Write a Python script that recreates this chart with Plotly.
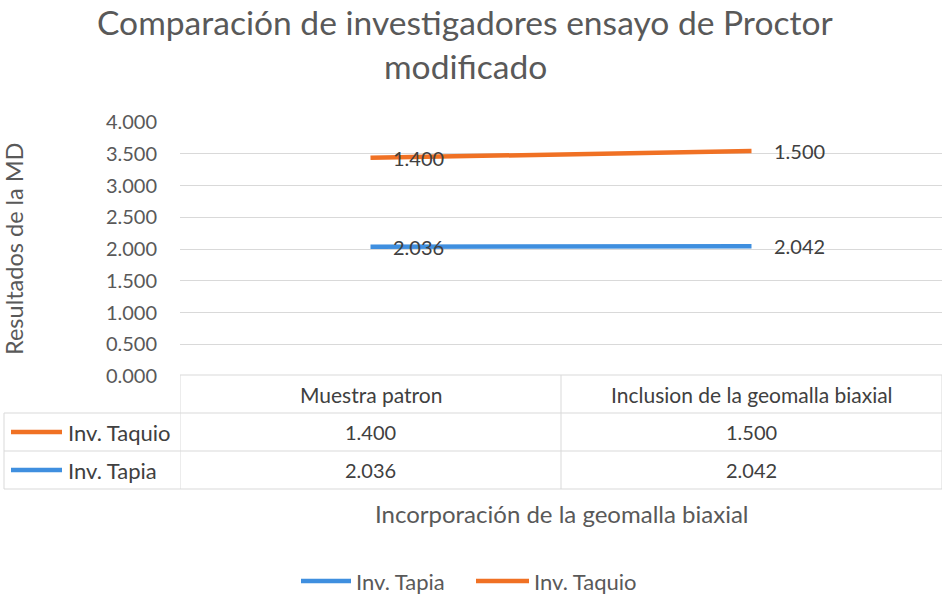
import numpy as np
import plotly.graph_objects as go

categories = ["Muestra patron", "Inclusion de la geomalla biaxial"]
series_names = ["Inv. Tapia", "Inv. Taquio"]
tapia = [2.036, 2.042]
taquio = [1.400, 1.500]
y_ticks = [0, 0.5, 1, 1.5, 2, 2.5, 3, 3.5, 4]
title_lines = ["Comparación de investigadores ensayo de Proctor", "modificado"]

BLUE = "#3F8FDF"
ORANGE = "#F07124"
GRID = "#D9D9D9"
TXT = "#595959"
DARK = "#404040"
FONT = "Lato"

W, H = 943, 597
L, R, T, B = 180, 1, 122, 221
PW, PH = W - L - R, H - T - B


def px(x):
    return (x - L) / PW


def py(y):
    return (H - B - y) / PH


xs = list(range(len(categories)))
series = {"Inv. Tapia": (tapia, BLUE), "Inv. Taquio": (taquio, ORANGE)}

fig = go.Figure()
for name in series_names:
    vals, col = series[name]
    fig.add_trace(go.Scatter(
        x=xs, y=vals, name=name, mode="lines", stackgroup="one", fill="none",
        line=dict(color=col, width=4.5), showlegend=False, hoverinfo="skip"))

annotations = []
stack = np.cumsum(np.array([series[n][0] for n in series_names]), axis=0)
for i, name in enumerate(series_names):
    vals = series[name][0]
    for j, v in enumerate(vals):
        annotations.append(dict(x=xs[j], y=stack[i][j], xref="x", yref="y",
                                text=f"{v:.3f}", showarrow=False, xanchor="left",
                                yanchor="middle", xshift=20,
                                font=dict(family=FONT, size=20, color=DARK)))

shapes = []
# table geometry
row_y = [375, 413, 451, 489]
line_style = dict(color=GRID, width=1)
for b in [-0.5 + k for k in range(len(categories) + 1)]:
    shapes.append(dict(type="line", xref="x", yref="paper", x0=b, x1=b,
                       y0=py(row_y[0]), y1=py(row_y[-1]), line=line_style))
shapes.append(dict(type="line", xref="paper", yref="paper", x0=px(4), x1=px(4),
                   y0=py(row_y[1]), y1=py(row_y[-1]), line=line_style))
shapes.append(dict(type="line", xref="paper", yref="paper", x0=0, x1=1,
                   y0=py(row_y[0]), y1=py(row_y[0]), line=line_style))
for yy in row_y[1:]:
    shapes.append(dict(type="line", xref="paper", yref="paper", x0=px(4), x1=1,
                       y0=py(yy), y1=py(yy), line=line_style))

# header
for j, c in enumerate(categories):
    annotations.append(dict(x=xs[j], y=py((row_y[0] + row_y[1]) / 2), xref="x", yref="paper",
                            text=c, showarrow=False, xanchor="center", yanchor="middle",
                            font=dict(family=FONT, size=21, color=DARK)))

# rows (Taquio first, then Tapia)
table_rows = ["Inv. Taquio", "Inv. Tapia"]
for r, name in enumerate(table_rows):
    vals, col = series[name]
    yc = (row_y[r + 1] + row_y[r + 2]) / 2
    shapes.append(dict(type="line", xref="paper", yref="paper", x0=px(11), x1=px(62),
                       y0=py(yc), y1=py(yc), line=dict(color=col, width=4.5)))
    annotations.append(dict(x=px(66), y=py(yc), xref="paper", yref="paper", text=name,
                            showarrow=False, xanchor="left", yanchor="middle",
                            font=dict(family=FONT, size=22, color=DARK)))
    for j, v in enumerate(vals):
        annotations.append(dict(x=xs[j], y=py(yc), xref="x", yref="paper",
                                text=f"{v:.3f}", showarrow=False, xanchor="center",
                                yanchor="middle", font=dict(family=FONT, size=20, color=DARK)))

# axis titles
annotations.append(dict(x=0.5, y=py(513), xref="paper", yref="paper",
                        text="Incorporación de la geomalla biaxial", showarrow=False,
                        xanchor="center", yanchor="middle",
                        font=dict(family=FONT, size=24, color=TXT)))
annotations.append(dict(x=px(14), y=0.5, xref="paper", yref="paper",
                        text="Resultados de la MD", showarrow=False, textangle=-90,
                        xanchor="center", yanchor="middle",
                        font=dict(family=FONT, size=23.5, color=TXT)))

# chart title (two lines)
for line, yc in zip(title_lines, [22, 66]):
    annotations.append(dict(x=px(465), y=py(yc), xref="paper", yref="paper",
                            text=line, showarrow=False, xanchor="center", yanchor="middle",
                            font=dict(family=FONT, size=33.6, color=TXT)))

# bottom legend
leg = [("Inv. Tapia", BLUE, 301, 351), ("Inv. Taquio", ORANGE, 476, 529)]
for name, col, a, b in leg:
    shapes.append(dict(type="line", xref="paper", yref="paper", x0=px(a), x1=px(b),
                       y0=py(581), y1=py(581), line=dict(color=col, width=4.5)))
    annotations.append(dict(x=px(b + 3), y=py(581), xref="paper", yref="paper", text=name,
                            showarrow=False, xanchor="left", yanchor="middle",
                            font=dict(family=FONT, size=22, color=TXT)))

fig.update_layout(
    width=W, height=H,
    margin=dict(l=L, r=R, t=T, b=B),
    paper_bgcolor="white", plot_bgcolor="white",
    xaxis=dict(range=[-0.5, len(categories) - 0.5], showticklabels=False, showgrid=False,
               zeroline=False, showline=False, fixedrange=True),
    yaxis=dict(range=[0, 4], tickvals=y_ticks, tickformat=".3f", showgrid=True,
               gridcolor=GRID, gridwidth=1, zeroline=False, showline=False,
               ticks="", ticklabelstandoff=22,
               tickfont=dict(family=FONT, size=20, color=TXT)),
    shapes=shapes, annotations=annotations, showlegend=False,
)

fig.write_html("out.html", config={"displayModeBar": False},
               post_script="document.body.style.margin='0';")
